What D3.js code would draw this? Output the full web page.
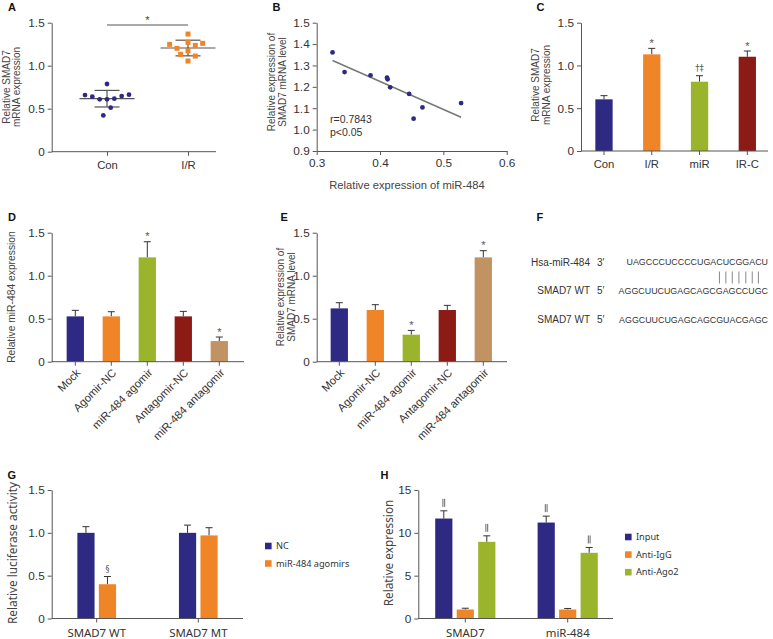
<!DOCTYPE html>
<html>
<head>
<meta charset="utf-8">
<script src="https://cdn.jsdelivr.net/npm/d3@7"></script>
<style>
body { margin: 0; background: #fff; }
svg { font-family: "Liberation Sans", Arial, sans-serif; }
.axis path, .axis line { stroke: #555; }
.axis text { fill: #333; font-size: 11.8px; font-family: "Liberation Sans", Arial, sans-serif; }
</style>
</head>
<body>
<script>
// ---- data ----
// A: scatter with mean/SD
var aCats = ["Con", "I/R"];
var aCon = [0.659, 0.640, 0.609, 0.422, 0.787, 0.609, 0.512, 0.616, 0.647, 0.663];
var aConSlot = [-3, -2, -1, -0.5, 0, 0, 0.5, 1, 2, 3];
var aIR = [1.248, 1.202, 1.132, 1.368, 1.271, 1.174, 1.054, 1.236, 1.112, 1.260];
var aIRSlot = [-2.5, -1.5, -1, 0, 0, 0, 0, 1, 1, 2];
var aTicks = [0, 0.5, 1.0, 1.5];

// B: correlation
var bMiR = [0.325, 0.344, 0.385, 0.411, 0.412, 0.416, 0.446, 0.467, 0.453, 0.528];
var bSmad = [1.361, 1.269, 1.254, 1.243, 1.235, 1.198, 1.167, 1.104, 1.051, 1.124];
var bXTicks = [0.3, 0.4, 0.5, 0.6];
var bYTicks = [0.9, 1.0, 1.1, 1.2, 1.3, 1.4, 1.5];

// C
var cCats = ["Con", "I/R", "miR", "IR-C"];
var cVals = [0.604, 1.130, 0.810, 1.102];
var cErrs = [0.043, 0.070, 0.070, 0.067];
var cMarks = ["", "*", "\u2020\u2021", "*"];

// D
var dCats = ["Mock", "Agomir-NC", "miR-484 agomir", "Antagomir-NC", "miR-484 antagomir"];
var dVals = [0.527, 0.527, 1.213, 0.527, 0.240];
var dErrs = [0.070, 0.054, 0.182, 0.058, 0.047];
var dMarks = ["", "", "*", "", "*"];

// E
var eVals = [0.620, 0.601, 0.314, 0.601, 1.213];
var eErrs = [0.066, 0.062, 0.050, 0.054, 0.078];
var eMarks = ["", "", "*", "", "*"];

// F
var fNames = ["Hsa-miR-484", "SMAD7 WT", "SMAD7 WT"];
var fEnds = ["3\u2032", "5\u2032", "5\u2032"];
var fSeqs = ["UAGCCCUCCCCUGACUCGGACU", "AGGCUUCUGAGCAGCGAGCCUGC", "AGGCUUCUGAGCAGCGUACGAGC"];

// G
var gGroups = ["SMAD7 WT", "SMAD7 MT"];
var gSeries = ["NC", "miR-484 agomirs"];
var gNC = [1.0, 1.0], gNCErr = [0.072, 0.09];
var gAgo = [0.40, 0.97], gAgoErr = [0.09, 0.09];
var gMarks = [["", ""], ["\u00a7", ""]];

// H
var hGroups = ["SMAD7", "miR-484"];
var hSeries = ["Input", "Anti-IgG", "Anti-Ago2"];
var hInput = [11.67, 11.2], hInputErr = [0.9, 0.75];
var hIgG = [1.05, 1.05], hIgGErr = [0.15, 0.12];
var hAgo = [8.95, 7.67], hAgoErr = [0.7, 0.62];
var hMarks = [["\u2016", "\u2016"], ["", ""], ["\u2016", "\u2016"]];
var hTicks = [0, 5, 10, 15];

var NAVY = "#2e2a84", ORANGE = "#f08528", GREEN = "#9ab52b", RED = "#8c1b16", TAN = "#c19262";
var fiveColors = [NAVY, ORANGE, GREEN, RED, TAN];
var NOTO = "'Noto Sans', 'Liberation Sans', sans-serif";

var svg = d3.select("body").append("svg").attr("width", 773).attr("height", 639);

function fmtTick(d) { return d === 0 ? "0" : d3.format(".1f")(d); }

function leftAxis(y, x, vals, f) {
  return svg.append("g").attr("class", "axis").attr("transform", "translate(" + x + ",0)")
    .call(d3.axisLeft(y).tickValues(vals).tickFormat(f).tickSize(4).tickSizeOuter(0));
}

function yTitle(lines, cx, cy, lh, size, family) {
  var t = svg.append("text").attr("transform", "translate(" + cx + "," + cy + ") rotate(-90)")
    .attr("text-anchor", "middle").style("font-size", size + "px").attr("fill", "#444");
  if (family) t.style("font-family", family);
  lines.forEach(function(s, i) {
    t.append("tspan").attr("x", 0).attr("y", (i - (lines.length - 1) / 2) * lh).attr("dy", "0.35em").text(s);
  });
}

function letter(s, x, y) {
  svg.append("text").attr("x", x).attr("y", y).style("font-weight", "bold")
    .style("font-size", "11px").attr("fill", "#111").text(s);
}

function errBar(cx, yTop, yErr) {
  svg.append("line").attr("x1", cx).attr("x2", cx).attr("y1", yTop).attr("y2", yErr)
    .attr("stroke", "#333").attr("stroke-width", 1);
  svg.append("line").attr("x1", cx - 3.5).attr("x2", cx + 3.5).attr("y1", yErr).attr("y2", yErr)
    .attr("stroke", "#333").attr("stroke-width", 1);
}

function mark(s, cx, yErr) {
  if (!s) return;
  if (s === "\u2016") {
    // double bar, drawn as two short strokes
    [-0.9, 0.9].forEach(function(o) {
      svg.append("line").attr("x1", cx + o).attr("x2", cx + o).attr("y1", yErr - 12).attr("y2", yErr - 4)
        .attr("stroke", "#666").attr("stroke-width", 1);
    });
    return;
  }
  var size = 11, off = 1.5, fam = "'Liberation Sans', Arial, sans-serif";
  if (s === "\u00a7") { size = 8; off = 5; fam = "'DejaVu Sans', sans-serif"; }
  else if (s !== "*") { size = 8.5; off = 4.5; fam = "'DejaVu Sans', sans-serif"; }
  svg.append("text").attr("x", cx).attr("y", yErr - off).attr("text-anchor", "middle")
    .style("font-size", size + "px").style("font-family", fam).attr("fill", "#555").text(s);
}

function bottomBandAxis(x, yPos, from, to, rotate, family, size, pad) {
  svg.append("line").attr("x1", from).attr("x2", to).attr("y1", yPos).attr("y2", yPos)
    .attr("stroke", "#555");
  var g = svg.append("g").attr("class", "axis").attr("transform", "translate(0," + yPos + ")")
    .call(d3.axisBottom(x).tickSize(4).tickPadding(pad || 5));
  g.select(".domain").remove();
  if (family) g.selectAll("text").style("font-family", family);
  if (size) g.selectAll("text").style("font-size", size + "px");
  if (rotate) {
    g.selectAll("text").attr("y", 0).attr("x", 0).attr("dy", "0.35em")
      .attr("text-anchor", "end").attr("transform", "translate(3,9) rotate(-45)");
  }
  return g;
}

function barPanel(cats, vals, errs, marks, colors, xRange, y, from, to, rotate) {
  var step = (xRange[1] - xRange[0]) / cats.length;
  var p = 1 - 17.3 / step;
  var x = d3.scaleBand().domain(cats).range(xRange).paddingInner(p).paddingOuter(p / 2);
  cats.forEach(function(c, i) {
    var cx = x(c) + x.bandwidth() / 2;
    errBar(cx, y(vals[i]), y(vals[i] + errs[i]));
    mark(marks[i], cx, y(vals[i] + errs[i]));
  });
  svg.append("g").selectAll("rect").data(vals).enter().append("rect")
    .attr("x", function(d, i) { return x(cats[i]); })
    .attr("y", function(d) { return y(d); })
    .attr("width", x.bandwidth())
    .attr("height", function(d) { return y(0) - y(d); })
    .attr("fill", function(d, i) { return colors[i]; });
  leftAxis(y, from, aTicks, fmtTick);
  bottomBandAxis(x, y(0), from, to, rotate, null, rotate ? 11.2 : 11.3, 5);
}

function groupedPanel(groups, series, vals, errs, marks, colors, xRange, y, from, to, ticks, f) {
  var x = d3.scaleBand().domain(groups).range(xRange);
  var n = series.length, sub = 21.5;
  var xs = d3.scaleBand().domain(series).range([-n * sub / 2, n * sub / 2]).paddingInner(0.2).paddingOuter(0.1);
  series.forEach(function(s, k) {
    groups.forEach(function(gname, i) {
      var cx = x(gname) + x.bandwidth() / 2 + xs(s) + xs.bandwidth() / 2;
      errBar(cx, y(vals[k][i]), y(vals[k][i] + errs[k][i]));
      mark(marks[k][i], cx, y(vals[k][i] + errs[k][i]));
    });
    svg.append("g").selectAll("rect").data(vals[k]).enter().append("rect")
      .attr("x", function(d, i) { return x(groups[i]) + x.bandwidth() / 2 + xs(s); })
      .attr("y", function(d) { return y(d); })
      .attr("width", xs.bandwidth())
      .attr("height", function(d) { return y(0) - y(d); })
      .attr("fill", colors[k]);
  });
  leftAxis(y, from, ticks, f);
  bottomBandAxis(x, y(0), from, to, false, NOTO, 11.4, 6);
}

function legend(names, colors, x, y0, dy) {
  names.forEach(function(s, i) {
    svg.append("rect").attr("x", x).attr("y", y0 + i * dy - 3.3).attr("width", 6.6).attr("height", 6.6)
      .attr("fill", colors[i]);
    svg.append("text").attr("x", x + 11).attr("y", y0 + i * dy).attr("dy", "0.35em")
      .style("font-family", NOTO).style("font-size", "9.2px").attr("fill", "#333").text(s);
  });
}

// ---- panel A ----
(function() {
  var y = d3.scaleLinear().domain([0, 1.5]).range([151.7, 22.7]);
  var x = d3.scalePoint().domain(aCats).range([107, 188]);
  var jit = d3.scaleLinear().domain([-3, 3]).range([-22, 22]);
  [aCon, aIR].forEach(function(vals, k) {
    var cx = x(aCats[k]), m = d3.mean(vals), sd = d3.deviation(vals);
    svg.append("line").attr("x1", cx - 27.5).attr("x2", cx + 27.5).attr("y1", y(m)).attr("y2", y(m))
      .attr("stroke", "#555").attr("stroke-width", 1.2);
    [m - sd, m + sd].forEach(function(v) {
      svg.append("line").attr("x1", cx - 12.5).attr("x2", cx + 12.5).attr("y1", y(v)).attr("y2", y(v))
        .attr("stroke", "#555").attr("stroke-width", 1.2);
    });
    svg.append("line").attr("x1", cx).attr("x2", cx).attr("y1", y(m - sd)).attr("y2", y(m + sd))
      .attr("stroke", "#555").attr("stroke-width", 1.2);
  });
  svg.append("g").selectAll("circle").data(aCon).enter().append("circle")
    .attr("cx", function(d, i) { return x("Con") + jit(aConSlot[i]); })
    .attr("cy", function(d) { return y(d); })
    .attr("r", 2.4).attr("fill", NAVY);
  svg.append("g").selectAll("rect").data(aIR).enter().append("rect")
    .attr("x", function(d, i) { return x("I/R") + jit(aIRSlot[i]) - 2.5; })
    .attr("y", function(d) { return y(d) - 2.5; })
    .attr("width", 5).attr("height", 5).attr("fill", ORANGE);
  leftAxis(y, 51.7, aTicks, fmtTick);
  svg.append("line").attr("x1", 51.7).attr("x2", 216).attr("y1", y(0)).attr("y2", y(0)).attr("stroke", "#555");
  var ax = svg.append("g").attr("class", "axis").attr("transform", "translate(0," + y(0) + ")")
    .call(d3.axisBottom(x).tickSize(4).tickPadding(5));
  ax.select(".domain").remove();
  ax.selectAll("text").style("font-size", "11.3px");
  // significance bracket
  svg.append("line").attr("x1", x("Con")).attr("x2", x("I/R")).attr("y1", 25).attr("y2", 25)
    .attr("stroke", "#555").attr("stroke-width", 1);
  svg.append("text").attr("x", (x("Con") + x("I/R")) / 2).attr("y", 24).attr("text-anchor", "middle")
    .style("font-size", "11px").attr("fill", "#444").text("*");
  yTitle(["Relative SMAD7", "mRNA expression"], 11, 87, 10, 10);
  letter("A", 8, 10.5);
})();

// ---- panel B ----
(function() {
  var x = d3.scaleLinear().domain([0.3, 0.6]).range([316.7, 506.7]);
  var y = d3.scaleLinear().domain([0.9, 1.5]).range([151, 22.7]);
  var mx = d3.mean(bMiR), my = d3.mean(bSmad);
  var sxy = d3.sum(bMiR, function(v, i) { return (v - mx) * (bSmad[i] - my); });
  var sxx = d3.sum(bMiR, function(v) { return (v - mx) * (v - mx); });
  var slope = sxy / sxx, icpt = my - slope * mx;
  var ext = d3.extent(bMiR);
  svg.append("line").attr("x1", x(ext[0])).attr("x2", x(ext[1]))
    .attr("y1", y(icpt + slope * ext[0])).attr("y2", y(icpt + slope * ext[1]))
    .attr("stroke", "#777").attr("stroke-width", 1.5);
  svg.append("g").selectAll("circle").data(bMiR).enter().append("circle")
    .attr("cx", function(d) { return x(d); })
    .attr("cy", function(d, i) { return y(bSmad[i]); })
    .attr("r", 2.4).attr("fill", NAVY);
  leftAxis(y, 316.7, bYTicks, d3.format(".1f"));
  svg.append("g").attr("class", "axis").attr("transform", "translate(0,151)")
    .call(d3.axisBottom(x).tickValues(bXTicks).tickFormat(d3.format(".1f")).tickSize(4).tickSizeOuter(0).tickPadding(4));
  svg.append("text").attr("x", 330).attr("y", 119).attr("dy", "0.35em").style("font-size", "10.5px")
    .attr("fill", "#333").text("r=0.7843");
  svg.append("text").attr("x", 330).attr("y", 132.7).attr("dy", "0.35em").style("font-size", "10.5px")
    .attr("fill", "#333").text("p<0.05");
  svg.append("text").attr("x", 407).attr("y", 185).attr("dy", "0.35em").attr("text-anchor", "middle")
    .style("font-size", "11.2px").attr("fill", "#444").text("Relative expression of miR-484");
  yTitle(["Relative expression of", "SMAD7 mRNA level"], 276.5, 82, 11, 10);
  letter("B", 272.5, 10.5);
})();

// ---- panel C ----
(function() {
  var y = d3.scaleLinear().domain([0, 1.5]).range([151, 22.7]);
  barPanel(cCats, cVals, cErrs, cMarks, [NAVY, ORANGE, GREEN, RED], [580.1, 771.2], y, 581, 768, false);
  yTitle(["Relative SMAD7", "mRNA expression"], 540.5, 85, 11, 10);
  letter("C", 536.5, 10.5);
})();

// ---- panel D ----
(function() {
  var y = d3.scaleLinear().domain([0, 1.5]).range([361.7, 232.7]);
  barPanel(dCats, dVals, dErrs, dMarks, fiveColors, [57.3, 237.3], y, 51.7, 244, true);
  yTitle(["Relative miR-484 expression"], 11.5, 297, 11, 10.3);
  letter("D", 8, 221);
})();

// ---- panel E ----
(function() {
  var y = d3.scaleLinear().domain([0, 1.5]).range([361.7, 232.7]);
  barPanel(dCats, eVals, eErrs, eMarks, fiveColors, [321.3, 501.3], y, 316.7, 507, true);
  yTitle(["Relative expression of", "SMAD7 mRNA level"], 286.2, 297, 11, 10);
  letter("E", 280.5, 221);
})();

// ---- panel F ----
(function() {
  var rowsY = [262, 290.5, 319.5];
  var seqNode = null;
  fNames.forEach(function(s, i) {
    svg.append("text").attr("x", 590).attr("y", rowsY[i]).attr("dy", "0.35em").attr("text-anchor", "end")
      .style("font-size", "10px").attr("fill", "#333").text(s);
    svg.append("text").attr("x", 597).attr("y", rowsY[i]).attr("dy", "0.35em")
      .style("font-size", "10px").attr("fill", "#333").text(fEnds[i]);
    var t = svg.append("text").attr("x", 768).attr("y", rowsY[i]).attr("dy", "0.35em").attr("text-anchor", "end")
      .style("font-size", "8.9px").attr("fill", "#333").text(fSeqs[i]);
    if (i === 0) seqNode = t.node();
  });
  var x0 = 768 - seqNode.getComputedTextLength();
  for (var k = 14; k <= 20; k++) {
    var cx = x0 + seqNode.getSubStringLength(0, k) + seqNode.getSubStringLength(k, 1) / 2;
    svg.append("line").attr("x1", cx).attr("x2", cx).attr("y1", 271.5).attr("y2", 283.5)
      .attr("stroke", "#888").attr("stroke-width", 1);
  }
  letter("F", 536.5, 221);
})();

// ---- panel G ----
(function() {
  var y = d3.scaleLinear().domain([0, 1.5]).range([618.5, 490]);
  groupedPanel(gGroups, gSeries, [gNC, gAgo], [gNCErr, gAgoErr], gMarks, [NAVY, ORANGE],
    [45.9, 249.1], y, 51.7, 243, aTicks, fmtTick);
  legend(gSeries, [NAVY, ORANGE], 265, 546, 17.5);
  yTitle(["Relative luciferase activity"], 12.7, 553, 11, 11.8, NOTO);
  letter("G", 7.5, 478.5);
})();

// ---- panel H ----
(function() {
  var y = d3.scaleLinear().domain([0, 15]).range([618.5, 490]);
  groupedPanel(hGroups, hSeries, [hInput, hIgG, hAgo], [hInputErr, hIgGErr, hAgoErr], hMarks,
    [NAVY, ORANGE, GREEN], [414.1, 618.9], y, 418.3, 613, hTicks, d3.format("d"));
  legend(hSeries, [NAVY, ORANGE, GREEN], 625, 537, 17.6);
  yTitle(["Relative expression"], 389, 553, 11, 11.8, NOTO);
  letter("H", 380.5, 478.5);
})();
</script>
</body>
</html>
